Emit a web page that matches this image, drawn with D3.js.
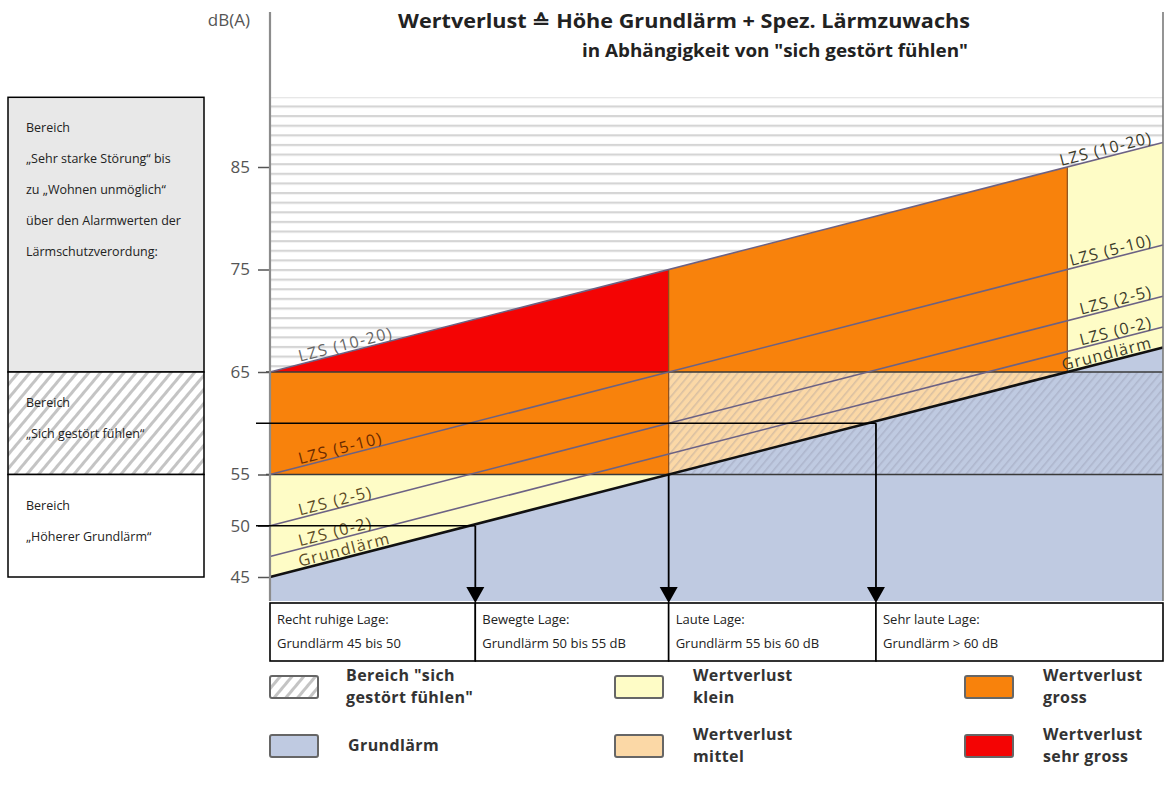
<!DOCTYPE html>
<html>
<head>
<meta charset="utf-8">
<script src="https://cdn.jsdelivr.net/npm/d3@7"></script>
<style>
  body { margin: 0; background: #fff; }
  svg { display: block; font-family: "Open Sans", "Liberation Sans", sans-serif; }
</style>
</head>
<body>
<div id="chart"></div>
<script>
// Grundlärm (x direction) and dB(A) levels
var gDomain = [45, 67.4];
var yTicks = [45, 50, 55, 65, 75, 85];
var lineNames = ["Grundlärm", "LZS (0-2)", "LZS (2-5)", "LZS (5-10)", "LZS (10-20)"];
var lineOffsets = [0, 2, 5, 10, 20];
var levels = [55, 65];
var columnBreaks = [55, 65];

// coloured zones: g range, lower/upper bound (fixed level or offset to Grundlärm)
var zoneNames = ["klein", "gross", "sehrGross", "mittel", "gross", "klein"];
var zoneG = [[45, 55], [45, 55], [45, 55], [55, 65], [55, 65], [65, 67.4]];
var zoneLower = [{ off: 0 }, { lvl: 55 }, { lvl: 65 }, { off: 0 }, { lvl: 65 }, { off: 0 }];
var zoneUpper = [{ lvl: 55 }, { lvl: 65 }, { off: 20 }, { lvl: 65 }, { off: 20 }, { off: 20 }];

// situation rows under the chart
var lageBreaks = [45, 50.15, 55, 60.2, 67.4];
var lageTitles = ["Recht ruhige Lage:", "Bewegte Lage:", "Laute Lage:", "Sehr laute Lage:"];
var lageTexts = ["Grundlärm 45 bis 50", "Grundlärm 50 bis 55 dB", "Grundlärm 55 bis 60 dB", "Grundlärm > 60 dB"];
var arrowG = [50.15, 55, 60.2];
var arrowLevels = [50, 55, 60];

var bereichTexts = [
    ["Bereich", "„Sehr starke Störung“ bis", "zu „Wohnen unmöglich“", "über den Alarmwerten der", "Lärmschutzverordung:"],
    ["Bereich", "„Sich gestört fühlen“"],
    ["Bereich", "„Höherer Grundlärm“"]
];
var bereichLevels = [[65, 91.8], [55, 65], [45, 55]];

var legendLabels = [["Bereich \"sich", "gestört fühlen\""], ["Grundlärm"], ["Wertverlust", "klein"],
    ["Wertverlust", "mittel"], ["Wertverlust", "gross"], ["Wertverlust", "sehr gross"]];
var legendKeys = ["hatch", "blau", "klein", "mittel", "gross", "sehrGross"];

var colors = {
    klein: "#fefcc6",
    mittel: "#fbd8a6",
    gross: "#f8820c",
    sehrGross: "#f40404",
    blau: "#bfcae1",
    hatch: "#ffffff"
};

const w = 1167;
const h = 787;
const plotTop = 12;
const plotBottom = 601;

const xScale = d3.scaleLinear().domain(gDomain).range([270, 1163]);
const yScale = d3.scaleLinear().domain([45, 65]).range([577, 372]);
const yMin = yScale.invert(plotBottom);
const yMax = 91.8;

const svg = d3.select("#chart").append("svg")
    .attr("width", w)
    .attr("height", h);

const defs = svg.append("defs");
defs.append("pattern")
    .attr("id", "stripes")
    .attr("patternUnits", "userSpaceOnUse")
    .attr("x", 0).attr("y", 95.8)
    .attr("width", 20).attr("height", 9.62)
    .append("rect")
    .attr("width", 20).attr("height", 2.2)
    .attr("fill", "#d5d5d5");

var hatchBox = defs.append("pattern")
    .attr("id", "hatchBox")
    .attr("patternUnits", "userSpaceOnUse")
    .attr("width", 9).attr("height", 9)
    .attr("patternTransform", "rotate(40)");
hatchBox.append("rect").attr("width", 9).attr("height", 9).attr("fill", "#fff");
hatchBox.append("rect").attr("width", 3).attr("height", 9).attr("fill", "#c4c4c4");

var hatchPlot = defs.append("pattern")
    .attr("id", "hatchPlot")
    .attr("patternUnits", "userSpaceOnUse")
    .attr("width", 6).attr("height", 6)
    .attr("patternTransform", "rotate(40)");
hatchPlot.append("rect").attr("width", 1.6).attr("height", 6).attr("fill", "rgba(130,130,150,0.28)");

// y from a bound spec at a Grundlärm value
function bound(b, g) {
    return b.lvl !== undefined ? b.lvl : g + b.off;
}

// Background stripes above the 65 line
svg.append("rect")
    .attr("x", xScale(gDomain[0]))
    .attr("y", yScale(yMax))
    .attr("width", xScale(gDomain[1]) - xScale(gDomain[0]))
    .attr("height", yScale(65) - yScale(yMax))
    .attr("fill", "url(#stripes)");

// Grundlärm (blue) area below the base line
svg.append("path")
    .attr("d", d3.line()([
        [xScale(gDomain[0]), yScale(gDomain[0])],
        [xScale(gDomain[1]), yScale(gDomain[1])],
        [xScale(gDomain[1]), yScale(yMin)],
        [xScale(gDomain[0]), yScale(yMin)]
    ]) + "Z")
    .attr("fill", colors.blau);

// Coloured zones
svg.selectAll(".zone")
    .data(zoneNames)
    .enter()
    .append("path")
    .attr("class", "zone")
    .attr("d", (d, i) => {
        var g0 = zoneG[i][0], g1 = zoneG[i][1];
        return d3.line()([
            [xScale(g0), yScale(bound(zoneLower[i], g0))],
            [xScale(g1), yScale(bound(zoneLower[i], g1))],
            [xScale(g1), yScale(bound(zoneUpper[i], g1))],
            [xScale(g0), yScale(bound(zoneUpper[i], g0))]
        ]) + "Z";
    })
    .attr("fill", (d) => colors[d]);

// Hatched band "sich gestört fühlen" right of 55
svg.append("rect")
    .attr("x", xScale(columnBreaks[0]))
    .attr("y", yScale(levels[1]))
    .attr("width", xScale(gDomain[1]) - xScale(columnBreaks[0]))
    .attr("height", yScale(levels[0]) - yScale(levels[1]))
    .attr("fill", "url(#hatchPlot)");

// Column dividers
svg.selectAll(".divider")
    .data(columnBreaks)
    .enter()
    .append("line")
    .attr("x1", (d) => xScale(d)).attr("x2", (d) => xScale(d))
    .attr("y1", (d) => yScale(d + 20))
    .attr("y2", (d) => yScale(d))
    .attr("stroke", "#8a4b18")
    .attr("stroke-width", 1.2);

// Horizontal 55 / 65 lines
svg.selectAll(".level")
    .data(levels)
    .enter()
    .append("line")
    .attr("x1", xScale(gDomain[0]) - 4).attr("x2", xScale(gDomain[1]))
    .attr("y1", (d) => yScale(d)).attr("y2", (d) => yScale(d))
    .attr("stroke", "#3a3a3a")
    .attr("stroke-width", 1.6);

// LZS lines
svg.selectAll(".lzs")
    .data(lineOffsets)
    .enter()
    .append("line")
    .attr("x1", xScale(gDomain[0])).attr("x2", xScale(gDomain[1]))
    .attr("y1", (d) => yScale(gDomain[0] + d))
    .attr("y2", (d) => yScale(gDomain[1] + d))
    .attr("stroke", (d) => d === 0 ? "#111" : "#6c6284")
    .attr("stroke-width", (d) => d === 0 ? 2.6 : 1.6);

// Line labels, rotated along the slope
const angle = Math.atan2(yScale(56) - yScale(55), xScale(56) - xScale(55)) * 180 / Math.PI;
var leftColors = ["#5b4a24", "#5b4a24", "#5b4a24", "#6a2a00", "#666"];
lineOffsets.forEach((off, i) => {
    var gl = 45.75, gr = 67.15;
    svg.append("text")
        .attr("transform", "translate(" + xScale(gl) + "," + (yScale(gl + off) - 2.5) + ") rotate(" + angle + ")")
        .attr("font-size", 16)
        .attr("letter-spacing", 1.4)
        .attr("fill", leftColors[i])
        .text(lineNames[i]);
    svg.append("text")
        .attr("transform", "translate(" + xScale(gr) + "," + (yScale(gr + off) - 2.5) + ") rotate(" + angle + ")")
        .attr("text-anchor", "end")
        .attr("font-size", 16)
        .attr("letter-spacing", 1.2)
        .attr("fill", "#3b3b2a")
        .text(lineNames[i]);
});

// Axis
const yAxis = d3.axisLeft(yScale).tickValues(yTicks).tickSize(12).tickPadding(8);
const gAxis = svg.append("g")
    .attr("transform", "translate(" + xScale(gDomain[0]) + ",0)")
    .call(yAxis);
gAxis.select(".domain").remove();
gAxis.selectAll(".tick line").attr("stroke", "#555").attr("stroke-width", 1.5);
gAxis.selectAll(".tick text")
    .attr("font-size", 17)
    .attr("font-family", "'Open Sans', sans-serif")
    .attr("fill", "#555");

svg.append("line")
    .attr("x1", xScale(gDomain[0])).attr("x2", xScale(gDomain[0]))
    .attr("y1", plotTop).attr("y2", plotBottom)
    .attr("stroke", "#8c8c8c").attr("stroke-width", 2.2);
svg.append("line")
    .attr("x1", xScale(gDomain[1])).attr("x2", xScale(gDomain[1]))
    .attr("y1", plotTop).attr("y2", plotBottom)
    .attr("stroke", "#7a7a7a").attr("stroke-width", 1.6);

svg.append("text")
    .attr("x", 250).attr("y", 26)
    .attr("text-anchor", "end")
    .attr("font-size", 17)
    .attr("fill", "#555")
    .text("dB(A)");

// Title
svg.append("text")
    .attr("x", 398).attr("y", 28)
    .attr("font-size", 19)
    .attr("font-weight", "bold")
    .attr("fill", "#222")
    .attr("textLength", 572)
    .attr("lengthAdjust", "spacingAndGlyphs")
    .text("Wertverlust ≙ Höhe Grundlärm + Spez. Lärmzuwachs");
svg.append("text")
    .attr("x", 582).attr("y", 57)
    .attr("font-size", 18)
    .attr("font-weight", "bold")
    .attr("fill", "#222")
    .attr("textLength", 386)
    .attr("lengthAdjust", "spacingAndGlyphs")
    .text("in Abhängigkeit von \"sich gestört fühlen\"");

// Reference lines with arrows
arrowG.forEach((g, i) => {
    var lv = arrowLevels[i];
    if (lv !== 55) {
        svg.append("line")
            .attr("x1", 256).attr("x2", xScale(g))
            .attr("y1", yScale(lv)).attr("y2", yScale(lv))
            .attr("stroke", "#000").attr("stroke-width", 1.6);
    }
    svg.append("line")
        .attr("x1", xScale(g)).attr("x2", xScale(g))
        .attr("y1", yScale(lv)).attr("y2", plotBottom - 10)
        .attr("stroke", "#000").attr("stroke-width", 1.8);
    svg.append("path")
        .attr("d", "M" + (xScale(g) - 9) + "," + (plotBottom - 14) + "L" + (xScale(g) + 9) + "," + (plotBottom - 14) + "L" + xScale(g) + "," + (plotBottom + 2) + "Z")
        .attr("fill", "#000");
});

// Situation table
const tableTop = 603, tableBottom = 661;
lageTitles.forEach((t, i) => {
    var x0 = xScale(lageBreaks[i]), x1 = xScale(lageBreaks[i + 1]);
    svg.append("rect")
        .attr("x", x0).attr("y", tableTop)
        .attr("width", x1 - x0).attr("height", tableBottom - tableTop)
        .attr("fill", "#fff").attr("stroke", "#000").attr("stroke-width", 1.6);
    svg.append("text").attr("x", x0 + 7).attr("y", 624)
        .attr("font-size", 13).attr("fill", "#222").text(t);
    svg.append("text").attr("x", x0 + 7).attr("y", 648)
        .attr("font-size", 13).attr("fill", "#222").text(lageTexts[i]);
});

// Left explanation boxes
var boxFills = ["#e8e8e8", "url(#hatchBox)", "#fff"];
bereichTexts.forEach((lines, i) => {
    var y0 = yScale(bereichLevels[i][1]), y1 = yScale(bereichLevels[i][0]);
    svg.append("rect")
        .attr("x", 8).attr("y", y0)
        .attr("width", 196).attr("height", y1 - y0)
        .attr("fill", boxFills[i]).attr("stroke", "#000").attr("stroke-width", 1.5);
    lines.forEach((l, j) => {
        svg.append("text")
            .attr("x", 26).attr("y", y0 + 35 + j * 31)
            .attr("font-size", 12.5).attr("fill", "#222")
            .text(l);
    });
});

// Legend
var legX = [270, 615, 965];
var legY = [687, 746];
legendKeys.forEach((k, i) => {
    var cx = legX[Math.floor(i / 2)], cy = legY[i % 2];
    svg.append("rect")
        .attr("x", cx).attr("y", cy - 11)
        .attr("width", 48).attr("height", 22)
        .attr("rx", 2)
        .attr("fill", k === "hatch" ? "url(#hatchBox)" : colors[k])
        .attr("stroke", "#666").attr("stroke-width", 2);
    var lines = legendLabels[i];
    lines.forEach((l, j) => {
        svg.append("text")
            .attr("x", cx + (i === 0 ? 76 : 78)).attr("y", cy - (lines.length === 1 ? -5 : 6) + j * 22)
            .attr("font-size", 16)
            .attr("letter-spacing", 0.4)
            .attr("font-weight", "bold")
            .attr("fill", "#333")
            .text(l);
    });
});
</script>
</body>
</html>
